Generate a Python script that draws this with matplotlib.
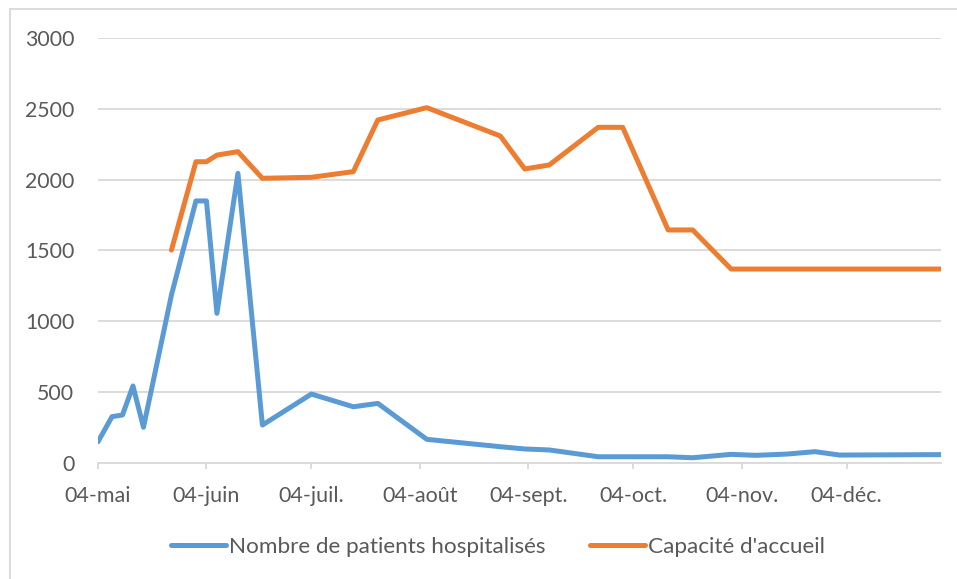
import numpy as np
import pandas as pd
import matplotlib
matplotlib.use("Agg")
import matplotlib.pyplot as plt
from matplotlib.patches import Rectangle

plt.rcParams['font.family'] = ['Lato', 'DejaVu Sans']

# %% data
dates = pd.to_datetime([
    "2020-05-04", "2020-05-08", "2020-05-11", "2020-05-14", "2020-05-17",
    "2020-05-25", "2020-06-01", "2020-06-04", "2020-06-07", "2020-06-13",
    "2020-06-20", "2020-07-04", "2020-07-16", "2020-07-23", "2020-08-06",
    "2020-08-27", "2020-09-03", "2020-09-10", "2020-09-24", "2020-10-01",
    "2020-10-14", "2020-10-21", "2020-11-01", "2020-11-08", "2020-11-17",
    "2020-11-25", "2020-12-02", "2020-12-31",
])
hospitalises = [148, 325, 337, 542, 250,
                1185, 1849, 1849, 1055, 2044,
                266, 485, 395, 419, 165,
                113, 97, 90, 42, 42,
                42, 35, 59, 52, 61,
                78, 54, 57]
capacite = [np.nan, np.nan, np.nan, np.nan, np.nan,
            1502, 2126, 2126, 2173, 2197,
            2009, 2016, 2056, 2421, 2508,
            2308, 2075, 2103, 2369, 2369,
            1644, 1644, 1368, 1368, 1368,
            1368, 1368, 1368]

tick_dates = pd.to_datetime(["2020-05-04", "2020-06-04", "2020-07-04", "2020-08-04",
                             "2020-09-04", "2020-10-04", "2020-11-04", "2020-12-04"])
tick_labels = ["04-mai", "04-juin", "04-juil.", "04-août",
               "04-sept.", "04-oct.", "04-nov.", "04-déc."]

blue = "#5B9BD5"
orange = "#ED7D31"
grey_txt = "#595959"
grey_line = "#D9D9D9"

# %% plot
fig = plt.figure(figsize=(9.57, 5.79), dpi=100)
ax = fig.add_axes([98 / 957, 1 - 462.7 / 579, (941 - 98) / 957, (462.7 - 38) / 579])

ax.plot(dates, hospitalises, color=blue, lw=3.6, solid_capstyle='round',
        solid_joinstyle='round', label="Nombre de patients hospitalisés")
ax.plot(dates, capacite, color=orange, lw=3.6, solid_capstyle='round',
        solid_joinstyle='round', label="Capacité d'accueil")

ax.set_ylim(0, 3000)
ax.set_yticks(np.arange(0, 3001, 500))
ax.set_xlim(dates[0], dates[-1])
ax.set_xticks(tick_dates)
ax.set_xticklabels(tick_labels)

ax.grid(axis='y', color=grey_line, lw=1.3)
ax.set_axisbelow(True)
for s in ['top', 'right', 'left']:
    ax.spines[s].set_visible(False)
ax.spines['bottom'].set_color(grey_line)
ax.spines['bottom'].set_linewidth(1.3)
ax.tick_params(axis='y', length=0, pad=17, labelsize=15.3, labelcolor=grey_txt)
ax.tick_params(axis='x', length=4.5, width=1.3, color=grey_line, pad=12,
               labelsize=15.5, labelcolor=grey_txt)

fig.legend(loc='center', bbox_to_anchor=(498 / 957, 1 - 547 / 579), ncol=2, frameon=False,
           fontsize=16.2, labelcolor=grey_txt, handlelength=2.45, handletextpad=0.12,
           columnspacing=2.0)

fig.patches.append(Rectangle((10 / 957, -0.05), 1.1, 1 - 9 / 579 + 0.05, transform=fig.transFigure,
                             fill=False, edgecolor=grey_line, lw=1.3))

fig.savefig("out.png", dpi=100)
